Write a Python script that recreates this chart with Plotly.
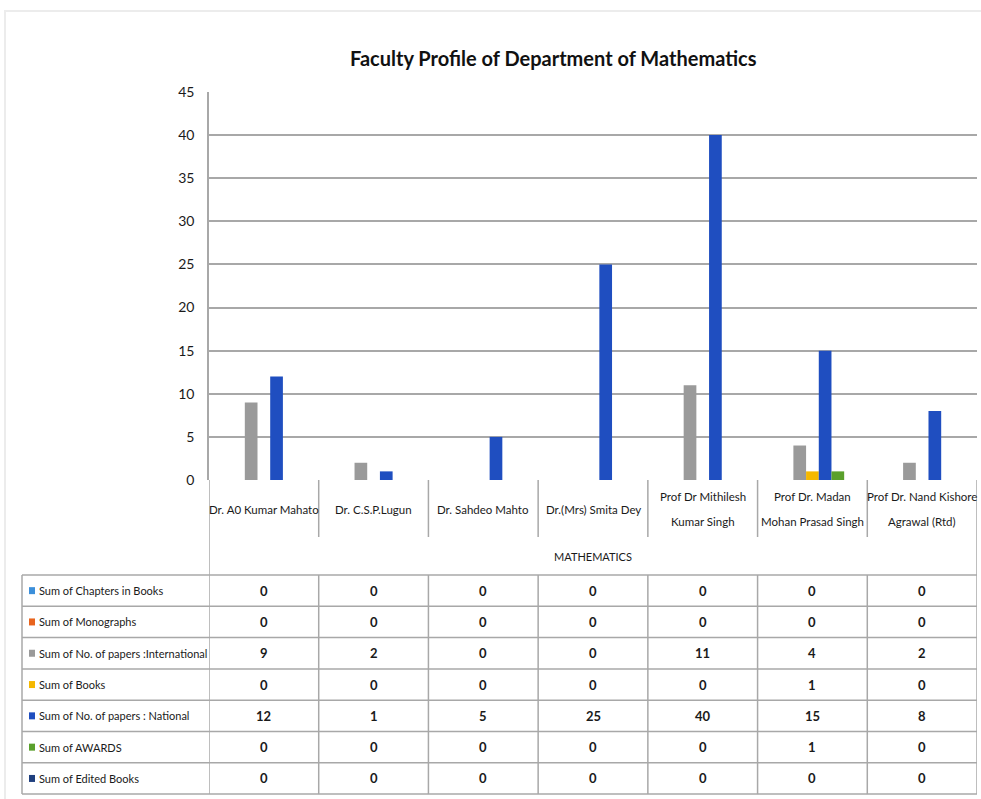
import plotly.graph_objects as go

# data
faculty = [
    "Dr. A0 Kumar Mahato",
    "Dr. C.S.P.Lugun",
    "Dr. Sahdeo Mahto",
    "Dr.(Mrs) Smita Dey",
    "Prof Dr Mithilesh<br>Kumar Singh",
    "Prof Dr. Madan<br>Mohan Prasad Singh",
    "Prof Dr. Nand Kishore<br>Agrawal (Rtd)",
]
series_names = [
    "Sum of Chapters in Books",
    "Sum of Monographs",
    "Sum of No. of papers :International",
    "Sum of Books",
    "Sum of No. of papers : National",
    "Sum of AWARDS",
    "Sum of Edited Books",
]
chapters = [0, 0, 0, 0, 0, 0, 0]
monographs = [0, 0, 0, 0, 0, 0, 0]
papers_intl = [9, 2, 0, 0, 11, 4, 2]
books = [0, 0, 0, 0, 0, 1, 0]
papers_natl = [12, 1, 5, 25, 40, 15, 8]
awards = [0, 0, 0, 0, 0, 1, 0]
edited_books = [0, 0, 0, 0, 0, 0, 0]
series_values = [chapters, monographs, papers_intl, books, papers_natl, awards, edited_books]
colors = ["#3C8FDA", "#E8641E", "#9A9A9A", "#F5B800", "#1F4EC0", "#5AA02C", "#1F3F7E"]
group_label = "MATHEMATICS"
y_ticks = [0, 5, 10, 15, 20, 25, 30, 35, 40, 45]

W, H = 981, 799
FONT = "Lato, Roboto, sans-serif"
LINE = "#A8A8A8"
TXT = "#1A1A1A"


def px(v):
    return v / W


def py(v):
    return 1 - v / H


fig = go.Figure()
for name, vals, col in zip(series_names, series_values, colors):
    fig.add_trace(go.Bar(x=faculty, y=vals, name=name, marker_color=col,
                         marker_line_width=0, showlegend=False))

n = len(faculty)
shapes = []
annotations = []

# outer faint frame
shapes.append(dict(type="line", xref="paper", yref="paper", x0=px(4), x1=1,
                   y0=py(11), y1=py(11), line=dict(color="#ECECEC", width=2)))
shapes.append(dict(type="line", xref="paper", yref="paper", x0=px(5), x1=px(5),
                   y0=py(11), y1=0, line=dict(color="#ECECEC", width=2)))

# category label area separators
for i in range(1, n):
    shapes.append(dict(type="line", xref="x", yref="paper", x0=i - 0.5, x1=i - 0.5,
                       y0=py(480), y1=py(537), line=dict(color=LINE, width=1.5)))
# left and right borders below plot
for xv in [-0.5, n - 0.5]:
    shapes.append(dict(type="line", xref="x", yref="paper", x0=xv, x1=xv,
                       y0=py(480), y1=py(794), line=dict(color=LINE, width=1.5)))

# data table
row_top, row_h = 575, 31.3
for r in range(len(series_names) + 1):
    yy = py(row_top + r * row_h)
    shapes.append(dict(type="line", xref="paper", yref="paper", x0=px(22), x1=px(977),
                       y0=yy, y1=yy, line=dict(color=LINE, width=1.5)))
shapes.append(dict(type="line", xref="paper", yref="paper", x0=px(22), x1=px(22),
                   y0=py(row_top), y1=py(row_top + 7 * row_h), line=dict(color=LINE, width=1.5)))
for i in range(1, n):
    shapes.append(dict(type="line", xref="x", yref="paper", x0=i - 0.5, x1=i - 0.5,
                       y0=py(row_top), y1=py(row_top + 7 * row_h), line=dict(color=LINE, width=1.5)))

for r, (name, vals, col) in enumerate(zip(series_names, series_values, colors)):
    yc = row_top + (r + 0.5) * row_h
    shapes.append(dict(type="rect", xref="paper", yref="paper", x0=px(29), x1=px(35),
                       y0=py(yc + 3.5), y1=py(yc - 3.5), fillcolor=col, line_width=0))
    annotations.append(dict(text=name, xref="paper", yref="paper", x=px(37), y=py(yc),
                            xanchor="left", yanchor="middle", showarrow=False,
                            font=dict(family=FONT, size=11, color=TXT)))
    for f, v in zip(faculty, vals):
        annotations.append(dict(text=f"<b>{v}</b>", xref="x", yref="paper", x=f, y=py(yc),
                                xanchor="center", yanchor="middle", showarrow=False,
                                font=dict(family=FONT, size=13, color=TXT)))

# category labels (two-line names get the wider line spacing of the original)
for f in faculty:
    lines = f.split("<br>")
    ys = [509] if len(lines) == 1 else [496, 521]
    for line, yv in zip(lines, ys):
        annotations.append(dict(text=line, xref="x", yref="paper", x=f, y=py(yv),
                                xanchor="center", yanchor="middle", showarrow=False,
                                font=dict(family=FONT, size=11.5, color=TXT)))
annotations.append(dict(text=group_label, xref="paper", yref="paper", x=px(593), y=py(556),
                        xanchor="center", yanchor="middle", showarrow=False,
                        font=dict(family=FONT, size=11, color=TXT)))

# title
annotations.append(dict(text="<b>Faculty Profile of Department of Mathematics</b>",
                        xref="paper", yref="paper", x=px(553), y=py(58),
                        xanchor="center", yanchor="middle", showarrow=False,
                        font=dict(family=FONT, size=20, color="#111111")))

fig.update_layout(
    width=W, height=H,
    margin=dict(l=0, r=0, t=0, b=0, autoexpand=False),
    paper_bgcolor="white", plot_bgcolor="white",
    barmode="group", bargap=0.19, bargroupgap=0,
    shapes=shapes, annotations=annotations,
    xaxis=dict(domain=[px(209), px(977)], range=[-0.5, n - 0.5], showticklabels=False,
               showgrid=False, zeroline=False, showline=False, fixedrange=True,
               automargin=False),
    yaxis=dict(domain=[py(480), py(92)], range=[0, 45], tickvals=y_ticks,
               showgrid=True, gridcolor=LINE, gridwidth=1.5, zeroline=False,
               showline=True, linecolor=LINE, linewidth=1.5, ticks="",
               ticklabelstandoff=10, automargin=False,
               tickfont=dict(family=FONT, size=14, color=TXT)),
)

# pin the figure to the window corner so page margins do not shift it
pin = ("document.body.style.margin='0';document.body.style.overflow='hidden';"
       "var d=document.querySelector('.plotly-graph-div');"
       "d.style.position='fixed';d.style.top='0';d.style.left='0';")
fig.write_html("out.html", config={"displayModeBar": False}, post_script=pin)
